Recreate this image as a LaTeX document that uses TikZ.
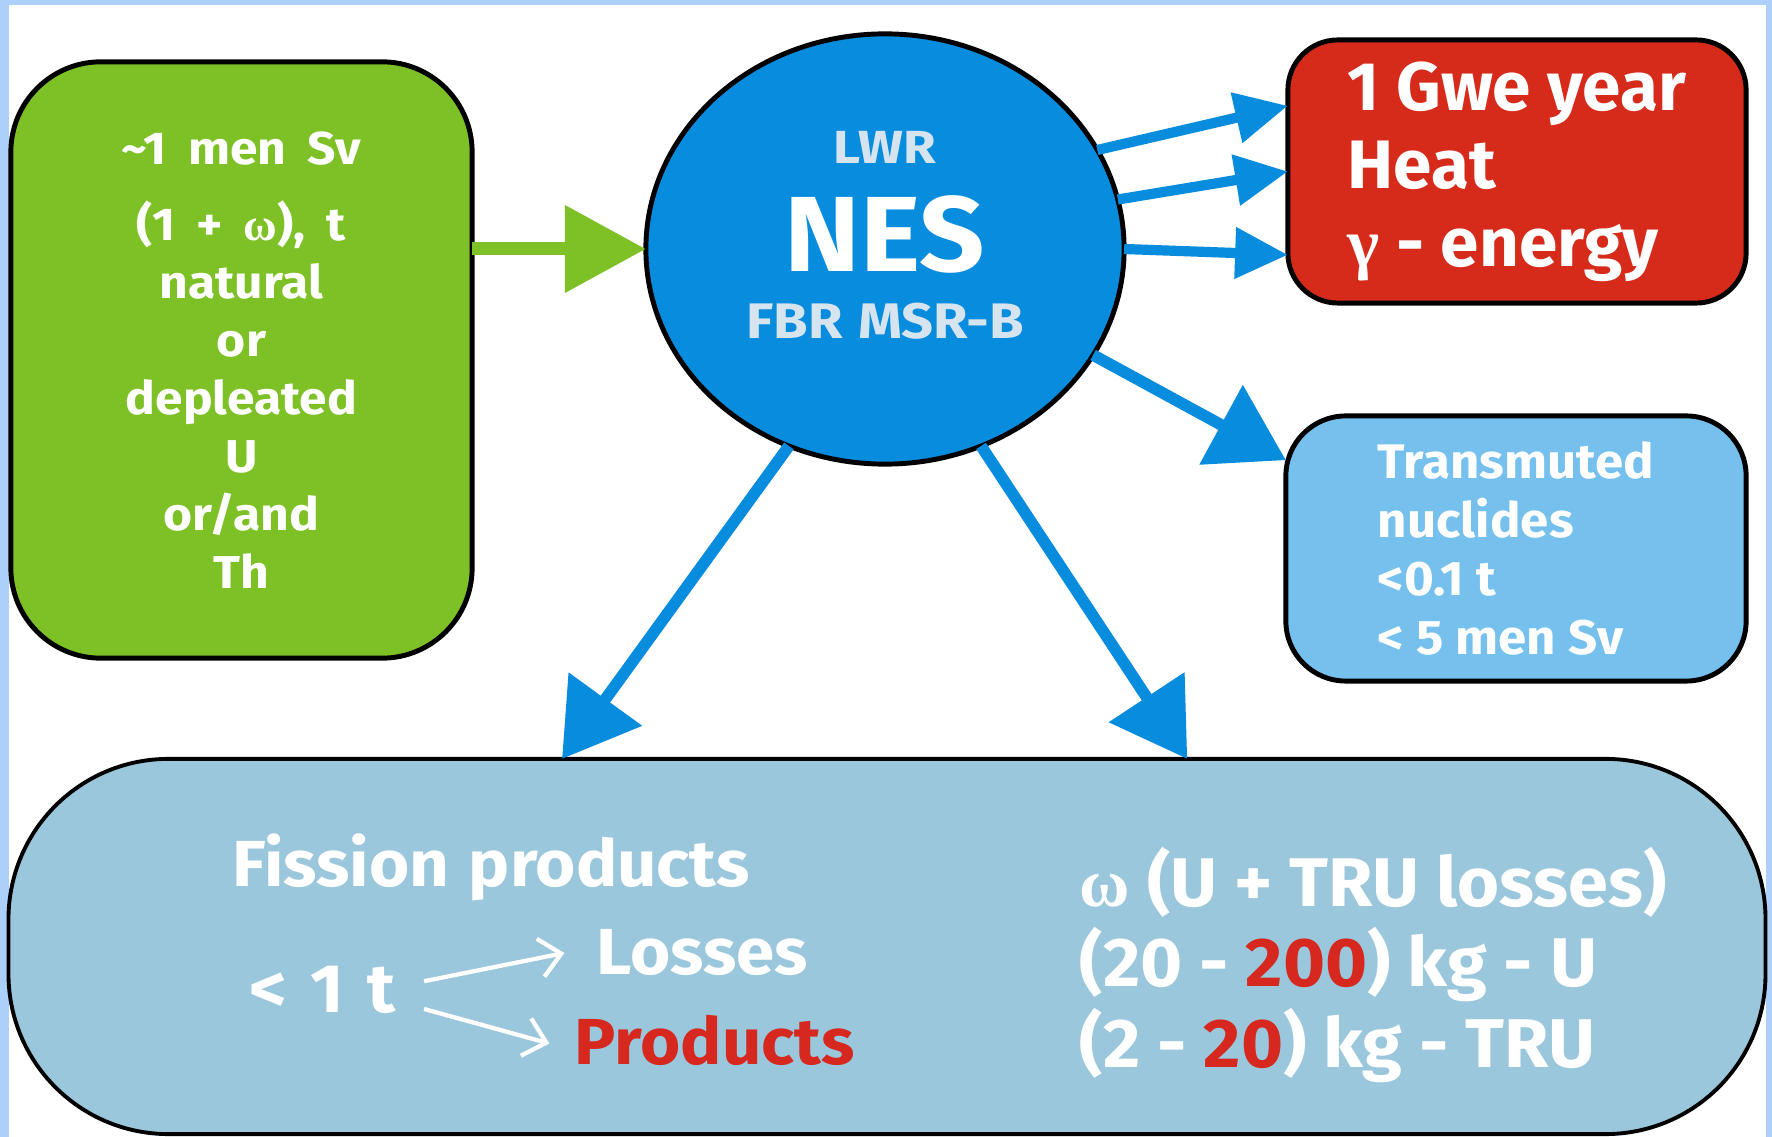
\documentclass[tikz,border=0pt]{standalone}
\usepackage{fontspec}
\setmainfont{Fira Sans}
\newfontfamily\grk{Liberation Serif}
\usetikzlibrary{arrows.meta}
\usetikzlibrary{shapes.geometric}
\definecolor{framebg}{RGB}{172,208,250}
\definecolor{fuelgreen}{RGB}{125,193,38}
\definecolor{nesblue}{RGB}{8,140,222}
\definecolor{heatred}{RGB}{214,42,26}
\definecolor{nuclblue}{RGB}{118,192,238}
\definecolor{fpblue}{RGB}{155,199,221}
\definecolor{lwrgray}{RGB}{214,228,240}
\definecolor{redtext}{RGB}{214,40,30}
\tikzstyle{box}=[draw=black, line width=1.4pt, inner sep=0pt, outer sep=0pt, text=white, font=\bfseries]
\newcommand{\wider}[2]{\addfontfeature{FakeStretch=#1}\spaceskip=#2\fontdimen2\font\relax}

\begin{document}
\begin{tikzpicture}[x=0.01cm, y=-0.01cm,
    feed/.style={draw=fuelgreen, line width=3.7pt, -{Triangle[length=23pt,width=24pt]}},
    flow/.style={draw=nesblue, line width=3.3pt, -{Triangle[length=21pt,width=25pt]}},
    ray/.style={draw=nesblue, line width=2.9pt, -{Triangle[length=15pt,width=14pt]}},
    split/.style={draw=white, line width=1.2pt, -{Straight Barb[length=6pt,width=11pt]}},
    fp/.style={inner sep=0pt, text=white, font=\bfseries\fontsize{18.5}{23}\selectfont\wider{1.06}{1.2}}]
    \fill[framebg] (0,0) rectangle (1772,1137);
    \fill[white] (9,5) rectangle (1766,1137);
    \useasboundingbox (0,0) rectangle (1772,1137);

    \node[box, fill=fuelgreen, rounded corners=0.9cm, minimum width=4.61cm, minimum height=5.96cm,
          align=center, font=\bfseries\fontsize{13.1}{16.5}\selectfont\wider{1.08}{1.8}] (fuel) at (241.5,360)
      {\textasciitilde1 men Sv\\[5pt](1 + {\grk ω}), t\\natural\\or\\depleated\\U\\or/and\\Th};
    \node[box, ellipse, fill=nesblue, minimum width=4.78cm, minimum height=4.30cm] (nes) at (885,249) {};
    \node[text=lwrgray, font=\bfseries\fontsize{13.2}{15}\selectfont\wider{1.14}{1}] (lwr) at (885,147) {LWR};
    \node[text=white, font=\bfseries\fontsize{30.4}{32}\selectfont\wider{1.07}{1}] (nesname) at (885,234) {NES};
    \node[text=lwrgray, font=\bfseries\fontsize{14.2}{16}\selectfont\wider{1.12}{1.2}] (fbr) at (885,321) {FBR MSR-B};
    \node[box, fill=heatred, rounded corners=0.5cm, minimum width=4.58cm, minimum height=2.63cm,
          align=left, font=\bfseries\fontsize{19.5}{22.2}\selectfont\wider{1.01}{1}] (heat) at (1517,171.5)
      {1 Gwe year\\Heat\\{\grk γ} - energy};
    \node[box, fill=nuclblue, rounded corners=0.6cm, minimum width=4.60cm, minimum height=2.65cm,
          align=left, font=\bfseries\fontsize{13.8}{16.7}\selectfont\wider{1.05}{1}] (nucl) at (1516,548.5)
      {Transmuted\\nuclides\\<0.1 t\\< 5 men Sv};
    \node[box, fill=fpblue, line width=1.1pt, rounded corners=1.6cm, minimum width=17.56cm, minimum height=3.75cm]
      (waste) at (887,946.5) {};

    \node[fp, anchor=base west] (fission) at (232,887) {Fission products};
    \node[fp, anchor=east, font=\bfseries\fontsize{19.5}{23}\selectfont\wider{1.06}{1.35}] (lt) at (396,990) {< 1 t};
    \node[fp, anchor=west] (loss) at (596,953) {Losses};
    \node[fp, anchor=west, text=redtext] (prod) at (574,1040) {Products};
    \node[fp, anchor=west, align=left, font=\bfseries\fontsize{19.6}{22.8}\selectfont\wider{1.045}{1}] (losses) at (1079,965)
      {{\grk ω} (U + TRU losses)\\(20 - \textcolor{redtext}{200}) kg - U\\(2 - \textcolor{redtext}{20}) kg - TRU};

    \draw[feed] (fuel.east |- nes.west) -- (nes.west);
    \foreach \s/\e in {25/164, 12/180, 0/200}
      \draw[ray] (nes.\s) -- (heat.\e);
    \draw[flow] (nes.-27) -- (nucl.159);
    \draw[flow] (nes.244) -- (waste.150);
    \draw[flow] (nes.-64) -- (waste.32);
    \draw[split] ([xshift=8pt,yshift=2.5pt]lt.east) -- ([xshift=-9pt]loss.west);
    \draw[split] ([xshift=8pt,yshift=-5.4pt]lt.east) -- ([xshift=-7pt,yshift=-1pt]prod.west);
\end{tikzpicture}
\end{document}
